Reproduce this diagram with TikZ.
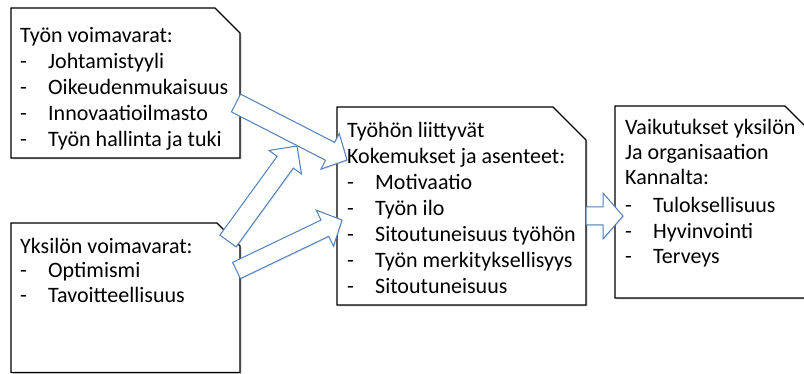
\documentclass[tikz,border=0pt]{standalone}
\usepackage{fontspec}
\setmainfont{Carlito}
\usetikzlibrary{calc,shadows}
\definecolor{arrowblue}{RGB}{79,129,189}
\tikzset{
  notebox/.style={draw=black, line width=1.2pt, fill=white, line join=miter,
    drop shadow={shadow xshift=1.5pt, shadow yshift=-1.5pt, opacity=0.25, fill=black!70}},
  boxtext/.style={anchor=base west, inner sep=0pt, align=left},
  blockarrow/.style={draw=arrowblue, line width=1pt, fill=white, line join=miter,
    drop shadow={shadow xshift=1pt, shadow yshift=-1pt, opacity=0.15, fill=black!70}},
}
% list item: dash followed by a tab stop
\newcommand\itm[1]{\makebox[28pt][l]{-}#1}
% block arrow from #1 (tail centre) to #2 (tip);
% #3 half shaft width, #4 half head width, #5 head length
\newcommand\blockarr[5]{%
  \coordinate (#2-base) at ($(#2)!#5!(#1)$);
  \draw[blockarrow] ($(#1)!#3!90:(#2)$) -- ($(#2-base)!#3!90:(#2)$)
    -- ($(#2-base)!#4!90:(#2)$) -- (#2) -- ($(#2-base)!#4!-90:(#2)$)
    -- ($(#2-base)!#3!-90:(#2)$) -- ($(#1)!#3!-90:(#2)$) -- cycle;}
\begin{document}
\begin{tikzpicture}[x=1pt,y=-1pt]
\useasboundingbox (0,0) rectangle (804,374);
\clip (0,0) rectangle (804,374);

% note-shaped boxes with a clipped corner
\draw[notebox] (11,8) -- (215,8) -- (240,33) -- (240,158) -- (11,158) -- cycle;
\draw[notebox] (11,223) -- (217,223) -- (240,246) -- (240,372.5) -- (11,372.5) -- cycle;
\draw[notebox] (337,107) -- (553,107) -- (586,140) -- (586,305) -- (337,305) -- cycle;
\draw[notebox] (615,106) -- (785,106) -- (835,156) -- (835,298) -- (615,298) -- cycle;

% box texts (anchored at the baseline of their last line)
\node[boxtext, font=\fontsize{22}{26}\selectfont] (tyo) at (20,147)
  {Työn voimavarat:\\ \itm{Johtamistyyli}\\ \itm{Oikeudenmukaisuus}\\
   \itm{Innovaatioilmasto}\\ \itm{Työn hallinta ja tuki}};
\node[boxtext, font=\fontsize{22}{25}\selectfont] (yks) at (20,303)
  {Yksilön voimavarat:\\ \itm{Optimismi}\\ \itm{Tavoitteellisuus}};
\node[boxtext, font=\fontsize{22}{26}\selectfont] (kok) at (347,294)
  {Työhön liittyvät\\ Kokemukset ja asenteet:\\ \itm{Motivaatio}\\ \itm{Työn ilo}\\
   \itm{Sitoutuneisuus työhön}\\ \itm{Työn merkityksellisyys}\\ \itm{Sitoutuneisuus}};
\node[boxtext, font=\fontsize{22}{25.5}\selectfont] (vai) at (625,264)
  {Vaikutukset yksilön\\ Ja organisaation\\ Kannalta:\\[2.5pt] \itm{Tuloksellisuus}\\
   \itm{Hyvinvointi}\\ \itm{Terveys}};

% block arrows
\coordinate (a1) at (236,103);   \coordinate (a2) at (347,160);
\coordinate (b1) at (228,241);   \coordinate (b2) at (297,146);
\coordinate (c1) at (236.5,270.5); \coordinate (c2) at (342,220);
\coordinate (d1) at (586,216);   \coordinate (d2) at (623,216);
\blockarr{a1}{a2}{10pt}{20pt}{19pt}
\blockarr{b1}{b2}{10pt}{20pt}{20pt}
\blockarr{c1}{c2}{9pt}{20pt}{19pt}
\blockarr{d1}{d2}{9pt}{23pt}{20pt}
\end{tikzpicture}
\end{document}
